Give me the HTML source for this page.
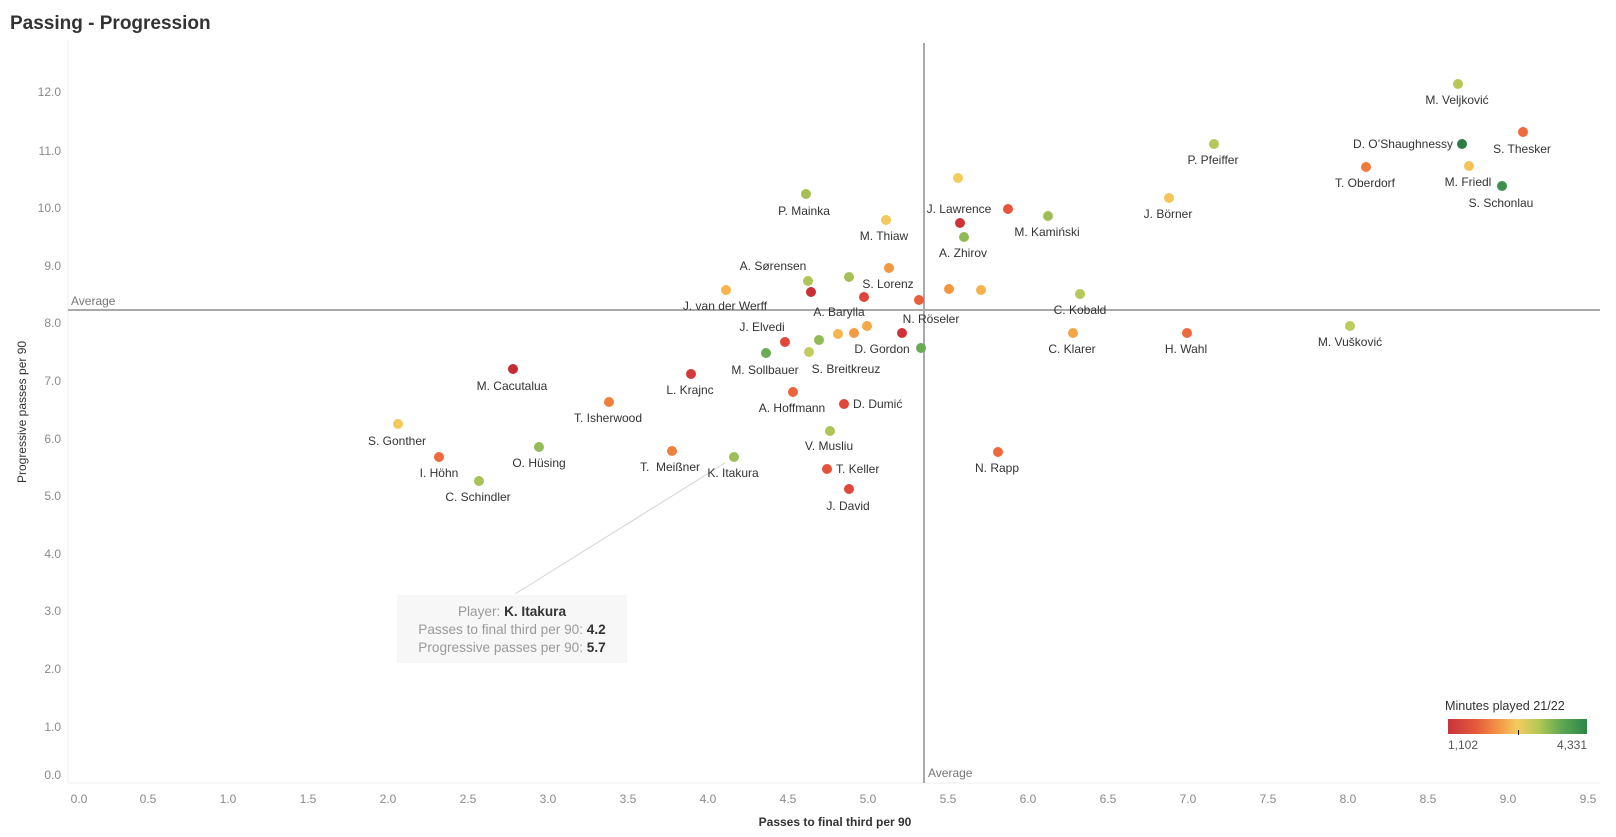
<!DOCTYPE html>
<html>
<head>
<meta charset="utf-8">
<style>
html,body{margin:0;padding:0;background:#fff;}
svg{display:block;}
text{font-family:"Liberation Sans",sans-serif;}
.t{font-size:12px;fill:#8a8a8a;}
.l{font-size:12px;fill:#333;}
</style>
</head>
<body>
<svg width="1616" height="837" viewBox="0 0 1616 837" xmlns="http://www.w3.org/2000/svg">
<defs>
<linearGradient id="g" x1="0" x2="1" y1="0" y2="0">
<stop offset="0" stop-color="#c8323b"/>
<stop offset="0.2" stop-color="#e45a3b"/>
<stop offset="0.36" stop-color="#f39446"/>
<stop offset="0.5" stop-color="#f5cb60"/>
<stop offset="0.65" stop-color="#b4c855"/>
<stop offset="0.82" stop-color="#5ea754"/>
<stop offset="1" stop-color="#2d8548"/>
</linearGradient>
</defs>

<!-- Title -->
<text x="10" y="29" style="font-size:19px;font-weight:bold;fill:#333;">Passing - Progression</text>

<!-- axes -->
<line x1="68" y1="40" x2="68" y2="783" stroke="#ececec" stroke-width="1"/>
<line x1="68" y1="783" x2="1600" y2="783" stroke="#ececec" stroke-width="1"/>

<!-- y ticks -->
<g class="t" text-anchor="end">
<text x="61" y="96">12.0</text>
<text x="61" y="155">11.0</text>
<text x="61" y="212">10.0</text>
<text x="61" y="270">9.0</text>
<text x="61" y="327">8.0</text>
<text x="61" y="385">7.0</text>
<text x="61" y="443">6.0</text>
<text x="61" y="500">5.0</text>
<text x="61" y="558">4.0</text>
<text x="61" y="615">3.0</text>
<text x="61" y="673">2.0</text>
<text x="61" y="731">1.0</text>
<text x="61" y="779">0.0</text>
</g>

<!-- x ticks -->
<g class="t" text-anchor="middle">
<text x="79" y="803">0.0</text>
<text x="148" y="803">0.5</text>
<text x="228" y="803">1.0</text>
<text x="308" y="803">1.5</text>
<text x="388" y="803">2.0</text>
<text x="468" y="803">2.5</text>
<text x="548" y="803">3.0</text>
<text x="628" y="803">3.5</text>
<text x="708" y="803">4.0</text>
<text x="788" y="803">4.5</text>
<text x="868" y="803">5.0</text>
<text x="948" y="803">5.5</text>
<text x="1028" y="803">6.0</text>
<text x="1108" y="803">6.5</text>
<text x="1188" y="803">7.0</text>
<text x="1268" y="803">7.5</text>
<text x="1348" y="803">8.0</text>
<text x="1428" y="803">8.5</text>
<text x="1508" y="803">9.0</text>
<text x="1588" y="803">9.5</text>
</g>

<!-- axis titles -->
<text x="835" y="826" text-anchor="middle" style="font-size:12px;font-weight:bold;fill:#333;">Passes to final third per 90</text>
<text transform="translate(26,412) rotate(-90)" text-anchor="middle" style="font-size:12px;fill:#333;">Progressive passes per 90</text>

<!-- average lines -->
<line x1="68" y1="310" x2="1600" y2="310" stroke="#a9a9a9" stroke-width="2"/>
<line x1="924" y1="43" x2="924" y2="783" stroke="#a9a9a9" stroke-width="2"/>
<text x="71" y="305" style="font-size:12px;fill:#777;">Average</text>
<text x="928" y="777" style="font-size:12px;fill:#777;">Average</text>

<!-- tooltip leader -->
<line x1="725" y1="463" x2="515" y2="594" stroke="#d4d4d4" stroke-width="1"/>

<!-- dots -->
<g>
<circle cx="1458" cy="84" r="5" fill="#b9c75a"/>
<circle cx="1523" cy="132" r="5" fill="#ee6a3d"/>
<circle cx="1462" cy="144" r="5" fill="#2e7d46"/>
<circle cx="1214" cy="144" r="5" fill="#b5c65a"/>
<circle cx="1366" cy="167" r="5" fill="#f07a3c"/>
<circle cx="1469" cy="166" r="5" fill="#f5c25a"/>
<circle cx="1502" cy="186" r="5" fill="#3c8f4e"/>
<circle cx="1169" cy="198" r="5" fill="#f5c45c"/>
<circle cx="1187" cy="333" r="5" fill="#ec6a3d"/>
<circle cx="1350" cy="326" r="5" fill="#bccb5c"/>
<circle cx="806" cy="194" r="5" fill="#a6bf55"/>
<circle cx="958" cy="178" r="5" fill="#f4cc5e"/>
<circle cx="1008" cy="209" r="5" fill="#e8553a"/>
<circle cx="1048" cy="216" r="5" fill="#9dbe57"/>
<circle cx="886" cy="220" r="5" fill="#f0c95a"/>
<circle cx="960" cy="223" r="5" fill="#cf3338"/>
<circle cx="964" cy="237" r="5" fill="#8ebb55"/>
<circle cx="889" cy="268" r="5" fill="#f4953f"/>
<circle cx="808" cy="281" r="5" fill="#b0c558"/>
<circle cx="849" cy="277" r="5" fill="#a5c155"/>
<circle cx="811" cy="292" r="5" fill="#c92f37"/>
<circle cx="949" cy="289" r="5" fill="#f4953f"/>
<circle cx="981" cy="290" r="5" fill="#f6b24d"/>
<circle cx="1080" cy="294" r="5" fill="#b6c85a"/>
<circle cx="726" cy="290" r="5" fill="#f7b44f"/>
<circle cx="864" cy="297" r="5" fill="#e0453a"/>
<circle cx="919" cy="300" r="5" fill="#ea5f3c"/>
<circle cx="867" cy="326" r="5" fill="#f5a848"/>
<circle cx="854" cy="333" r="5" fill="#f39c45"/>
<circle cx="838" cy="334" r="5" fill="#f7b550"/>
<circle cx="902" cy="333" r="5" fill="#cf3338"/>
<circle cx="1073" cy="333" r="5" fill="#f5a548"/>
<circle cx="819" cy="340" r="5" fill="#91bb55"/>
<circle cx="785" cy="342" r="5" fill="#e2483a"/>
<circle cx="921" cy="348" r="5" fill="#6aab53"/>
<circle cx="766" cy="353" r="5" fill="#6aab53"/>
<circle cx="809" cy="352" r="5" fill="#c2cc5e"/>
<circle cx="691" cy="374" r="5" fill="#d33a39"/>
<circle cx="513" cy="369" r="5" fill="#c52a35"/>
<circle cx="609" cy="402" r="5" fill="#f07f3e"/>
<circle cx="398" cy="424" r="5" fill="#f5c75c"/>
<circle cx="539" cy="447" r="5" fill="#95bc55"/>
<circle cx="672" cy="451" r="5" fill="#f0803e"/>
<circle cx="734" cy="457" r="5" fill="#9cbf57"/>
<circle cx="439" cy="457" r="5" fill="#ee6a3d"/>
<circle cx="479" cy="481" r="5" fill="#a8c257"/>
<circle cx="793" cy="392" r="5" fill="#ec643c"/>
<circle cx="844" cy="404" r="5" fill="#e0473a"/>
<circle cx="830" cy="431" r="5" fill="#b0c558"/>
<circle cx="827" cy="469" r="5" fill="#e5523a"/>
<circle cx="849" cy="489" r="5" fill="#e0473a"/>
<circle cx="998" cy="452" r="5" fill="#ee6a3d"/>
</g>

<!-- labels -->
<g class="l" text-anchor="middle">
<text x="1457" y="104">M. Veljković</text>
<text x="1522" y="153">S. Thesker</text>
<text x="1453" y="148" text-anchor="end">D. O’Shaughnessy</text>
<text x="1213" y="164">P. Pfeiffer</text>
<text x="1365" y="187">T. Oberdorf</text>
<text x="1468" y="186">M. Friedl</text>
<text x="1501" y="207">S. Schonlau</text>
<text x="1168" y="218">J. Börner</text>
<text x="1186" y="353">H. Wahl</text>
<text x="1350" y="346">M. Vušković</text>
<text x="804" y="215">P. Mainka</text>
<text x="959" y="213">J. Lawrence</text>
<text x="1047" y="236">M. Kamiński</text>
<text x="884" y="240">M. Thiaw</text>
<text x="963" y="257">A. Zhirov</text>
<text x="773" y="270">A. Sørensen</text>
<text x="888" y="288">S. Lorenz</text>
<text x="1080" y="314">C. Kobald</text>
<text x="725" y="310">J. van der Werff</text>
<text x="839" y="316">A. Barylla</text>
<text x="931" y="323">N. Röseler</text>
<text x="762" y="331">J. Elvedi</text>
<text x="1072" y="353">C. Klarer</text>
<text x="882" y="353">D. Gordon</text>
<text x="765" y="374">M. Sollbauer</text>
<text x="846" y="373">S. Breitkreuz</text>
<text x="512" y="390">M. Cacutalua</text>
<text x="690" y="394">L. Krajnc</text>
<text x="608" y="422">T. Isherwood</text>
<text x="397" y="445">S. Gonther</text>
<text x="539" y="467">O. Hüsing</text>
<text x="670" y="471">T.&#160; Meißner</text>
<text x="733" y="477">K. Itakura</text>
<text x="439" y="477">I. Höhn</text>
<text x="478" y="501">C. Schindler</text>
<text x="792" y="412">A. Hoffmann</text>
<text x="853" y="408" text-anchor="start">D. Dumić</text>
<text x="829" y="450">V. Musliu</text>
<text x="836" y="473" text-anchor="start">T. Keller</text>
<text x="848" y="510">J. David</text>
<text x="997" y="472">N. Rapp</text>
</g>

<!-- tooltip -->
<rect x="397" y="595" width="230" height="68" fill="#f7f7f7"/>
<g text-anchor="middle" style="font-size:13.6px;">
<text x="512" y="616"><tspan fill="#9a9a9a">Player: </tspan><tspan fill="#333" font-weight="bold">K. Itakura</tspan></text>
<text x="512" y="634"><tspan fill="#9a9a9a">Passes to final third per 90: </tspan><tspan fill="#333" font-weight="bold">4.2</tspan></text>
<text x="512" y="652"><tspan fill="#9a9a9a">Progressive passes per 90: </tspan><tspan fill="#333" font-weight="bold">5.7</tspan></text>
</g>

<!-- legend -->
<text x="1445" y="710" style="font-size:12.6px;fill:#333;">Minutes played 21/22</text>
<rect x="1448" y="719" width="139" height="15" fill="url(#g)"/>
<line x1="1518.5" y1="730" x2="1518.5" y2="735" stroke="#111" stroke-width="1"/>
<text x="1448" y="749" style="font-size:12px;fill:#555;">1,102</text>
<text x="1587" y="749" text-anchor="end" style="font-size:12px;fill:#555;">4,331</text>
</svg>
</body>
</html>
